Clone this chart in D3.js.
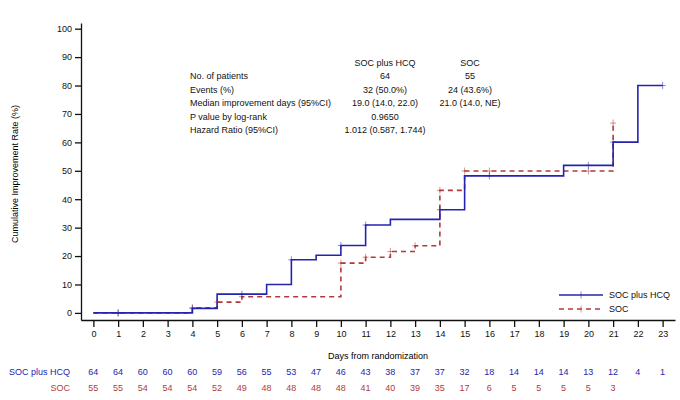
<!DOCTYPE html>
<html>
<head>
<meta charset="utf-8">
<script src="https://cdn.jsdelivr.net/npm/d3@7"></script>
<style>
  body { margin: 0; background: #fff; }
  svg { display: block; font-family: "Liberation Sans", Arial, sans-serif; }
</style>
</head>
<body>
<svg id="chart"></svg>
<script>
// step curves (day, cumulative %)
var hcqDays = [0, 4, 5, 7, 8, 9, 10, 11, 12, 14, 15, 19, 21, 22, 23];
var hcqRate = [0, 1.6, 6.6, 10.0, 18.7, 20.3, 23.7, 30.9, 32.9, 36.3, 48.2, 51.9, 60.1, 80.0, 80.0];
var socDays = [0, 4, 5, 6, 10, 11, 12, 13, 14, 15, 21];
var socRate = [0, 1.8, 3.8, 5.7, 17.5, 19.6, 21.6, 23.6, 43.1, 49.9, 66.8];

// censor marks
var hcqCensor = [1, 4, 6, 8, 10, 11, 14, 16, 20, 21, 23];
var socCensor = [1, 4, 5, 6, 10, 11, 12, 13, 14, 15, 16, 20, 21];

// numbers at risk
var hcqRisk = [64, 64, 60, 60, 60, 59, 56, 55, 53, 47, 46, 43, 38, 37, 37, 32, 18, 14, 14, 14, 13, 12, 4, 1];
var socRisk = [55, 55, 54, 54, 54, 52, 49, 48, 48, 48, 48, 41, 40, 39, 35, 17, 6, 5, 5, 5, 5, 3];

var xTicks = d3.range(0, 24);
var yTicks = [0, 10, 20, 30, 40, 50, 60, 70, 80, 90, 100];

// summary table
var colHeads = ["SOC plus HCQ", "SOC"];
var rowLabels = ["No. of patients", "Events (%)", "Median improvement days (95%CI)", "P value by log-rank", "Hazard Ratio (95%CI)"];
var hcqStats = ["64", "32 (50.0%)", "19.0 (14.0, 22.0)", "0.9650", "1.012 (0.587, 1.744)"];
var socStats = ["55", "24 (43.6%)", "21.0 (14.0, NE)", "", ""];

var blue = "#2424b0", red = "#b23a3a";
var svgWidth = 680, svgHeight = 400;

var svg = d3.select("#chart")
    .attr("width", svgWidth)
    .attr("height", svgHeight);

var x = d3.scaleLinear().domain([-0.5, 23.5]).range([81, 675]);
var y = d3.scaleLinear().domain([-2.5, 102]).range([320, 23]);

// axes
var xAxis = svg.append("g")
    .attr("transform", "translate(0,320)")
    .call(d3.axisBottom(x).tickValues(xTicks).tickSize(7).tickSizeOuter(0).tickPadding(4));
var yAxis = svg.append("g")
    .attr("transform", "translate(81,0)")
    .call(d3.axisLeft(y).tickValues(yTicks).tickSize(6).tickSizeOuter(0).tickPadding(3));

[xAxis, yAxis].forEach(function(g) {
    g.selectAll("path, line").attr("stroke", "#111").attr("stroke-width", 1.3);
    g.selectAll("text").style("font-size", "9px").attr("fill", "#111");
});

svg.append("text")
    .attr("x", x(11.5)).attr("y", 359)
    .attr("text-anchor", "middle")
    .style("font-size", "9px")
    .text("Days from randomization");

svg.append("text")
    .attr("transform", "translate(18,174) rotate(-90)")
    .attr("text-anchor", "middle")
    .style("font-size", "9px")
    .text("Cumulative Improvement Rate (%)");

// step lines
var line = d3.line()
    .x(function(d) { return x(d[0]); })
    .y(function(d) { return y(d[1]); })
    .curve(d3.curveStepAfter);

function stepAt(days, rates, t) {
    var v = rates[0];
    for (var i = 0; i < days.length; i++) {
        if (days[i] <= t) v = rates[i];
    }
    return v;
}

var series = [
    { days: socDays, rate: socRate, censor: socCensor, color: red, dash: "5,4" },
    { days: hcqDays, rate: hcqRate, censor: hcqCensor, color: blue, dash: null }
];

series.forEach(function(s) {
    svg.append("path")
        .datum(d3.zip(s.days, s.rate))
        .attr("d", line)
        .attr("fill", "none")
        .attr("stroke", s.color)
        .attr("stroke-width", 1.6)
        .attr("stroke-dasharray", s.dash);

    svg.selectAll(null)
        .data(s.censor)
        .enter()
        .append("path")
        .attr("d", function(t) {
            var cx = x(t), cy = y(stepAt(s.days, s.rate, t));
            return "M" + (cx - 3) + "," + cy + "H" + (cx + 3) + "M" + cx + "," + (cy - 3.5) + "V" + (cy + 3.5);
        })
        .attr("stroke", s.color)
        .attr("stroke-opacity", 0.6)
        .attr("stroke-width", 0.9);
});

// summary table
var table = svg.append("g").style("font-size", "9px").attr("fill", "#111");
var colX = [385, 470];
colHeads.forEach(function(h, i) {
    table.append("text").attr("x", colX[i]).attr("y", 66).attr("text-anchor", "middle").text(h);
});
rowLabels.forEach(function(r, i) {
    var ty = 79 + i * 13.5;
    table.append("text").attr("x", 190).attr("y", ty).text(r);
    table.append("text").attr("x", colX[0]).attr("y", ty).attr("text-anchor", "middle").text(hcqStats[i]);
    table.append("text").attr("x", colX[1]).attr("y", ty).attr("text-anchor", "middle").text(socStats[i]);
});

// legend
var legend = svg.append("g");
[{ name: "SOC plus HCQ", color: blue, dash: null, ly: 295 },
 { name: "SOC", color: red, dash: "5,4", ly: 309 }].forEach(function(l) {
    legend.append("line")
        .attr("x1", 559).attr("x2", 603).attr("y1", l.ly).attr("y2", l.ly)
        .attr("stroke", l.color).attr("stroke-width", 1.6)
        .attr("stroke-dasharray", l.dash);
    legend.append("path")
        .attr("d", "M581," + (l.ly - 3.5) + "V" + (l.ly + 3.5))
        .attr("stroke", l.color).attr("stroke-opacity", 0.6).attr("stroke-width", 0.9);
    legend.append("text")
        .attr("x", 609).attr("y", l.ly + 3)
        .style("font-size", "9px").attr("fill", "#111")
        .text(l.name);
});

// numbers at risk
var risk = svg.append("g").style("font-size", "9px");
[{ name: "SOC plus HCQ", vals: hcqRisk, color: blue, ry: 375 },
 { name: "SOC", vals: socRisk, color: red, ry: 391 }].forEach(function(r) {
    risk.append("text")
        .attr("x", 70).attr("y", r.ry)
        .attr("text-anchor", "end")
        .attr("fill", r.color)
        .text(r.name);
    risk.selectAll(null)
        .data(r.vals)
        .enter()
        .append("text")
        .attr("x", function(d, i) { return x(i); })
        .attr("y", r.ry)
        .attr("text-anchor", "middle")
        .attr("fill", r.color)
        .text(function(d) { return d; });
});
</script>
</body>
</html>
